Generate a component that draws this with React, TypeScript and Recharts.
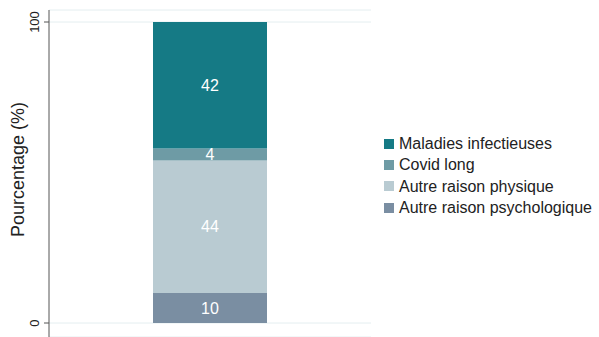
import React from "react";
import { BarChart, Bar, XAxis, YAxis, CartesianGrid, LabelList } from "recharts";

const categories = ["Total"];
const psychologique = [10];
const physique = [44];
const covidLong = [4];
const infectieuses = [42];
const yTicks = [0, 100];

const seriesNames = {
  infectieuses: "Maladies infectieuses",
  covid: "Covid long",
  physique: "Autre raison physique",
  psycho: "Autre raison psychologique",
};
const colors = {
  infectieuses: "#157a85",
  covid: "#6e9ba5",
  physique: "#b9cbd2",
  psycho: "#7a8ea2",
};

const data = categories.map((c, i) => ({
  name: c,
  psycho: psychologique[i],
  physique: physique[i],
  covid: covidLong[i],
  infectieuses: infectieuses[i],
}));

const FONT = "'Liberation Sans', Arial, sans-serif";

const YTick = (props: any) => {
  const { x, y, payload } = props;
  return (
    <text
      x={x - 3}
      y={y}
      transform={`rotate(-90, ${x - 3}, ${y})`}
      textAnchor="middle"
      fontSize={13}
      fontFamily={FONT}
      fill="#222"
    >
      {payload.value}
    </text>
  );
};

const legendOrder: (keyof typeof colors)[] = ["infectieuses", "covid", "physique", "psycho"];

const LegendBox = () => (
  <div
    style={{
      position: "absolute",
      left: 384,
      top: 133,
      fontFamily: FONT,
      fontSize: 16,
      color: "#222",
      lineHeight: "21.3px",
    }}
  >
    {legendOrder.map((k) => (
      <div key={k} style={{ display: "flex", alignItems: "center", height: 21.3, whiteSpace: "nowrap" }}>
        <span
          style={{
            display: "inline-block",
            width: 10,
            height: 10,
            background: colors[k],
            marginRight: 5,
          }}
        />
        <span>{seriesNames[k]}</span>
      </div>
    ))}
  </div>
);

export default function App() {
  return (
    <div style={{ position: "absolute", left: 0, top: 0, width: 599, height: 337, background: "#fff" }}>
      <BarChart
        width={599}
        height={337}
        data={data}
        margin={{ top: 10, right: 228, bottom: 0, left: 9 }}
        barSize={114}
      >
        <CartesianGrid vertical={false} stroke="#e4eef0" strokeWidth={1} />
        <XAxis dataKey="name" hide />
        <YAxis
          domain={[0, 100]}
          ticks={yTicks}
          width={40}
          padding={{ top: 12, bottom: 14 }}
          axisLine={{ stroke: "#555", strokeWidth: 1 }}
          tickLine={{ stroke: "#555", strokeWidth: 1 }}
          tickSize={5}
          tick={<YTick />}
          label={{
            value: "Pourcentage (%)",
            angle: -90,
            position: "insideLeft",
            offset: 0,
            dx: 9,
            dy: -4,
            style: { fontSize: 18, fontFamily: FONT, fill: "#222", textAnchor: "middle" },
          }}
        />
        {(["psycho", "physique", "covid", "infectieuses"] as const).map((k) => (
          <Bar key={k} dataKey={k} stackId="a" fill={colors[k]} isAnimationActive={false}>
            <LabelList
              dataKey={k}
              position="center"
              fill="#fff"
              fontSize={16}
              fontFamily={FONT}
            />
          </Bar>
        ))}
      </BarChart>
      <LegendBox />
    </div>
  );
}
